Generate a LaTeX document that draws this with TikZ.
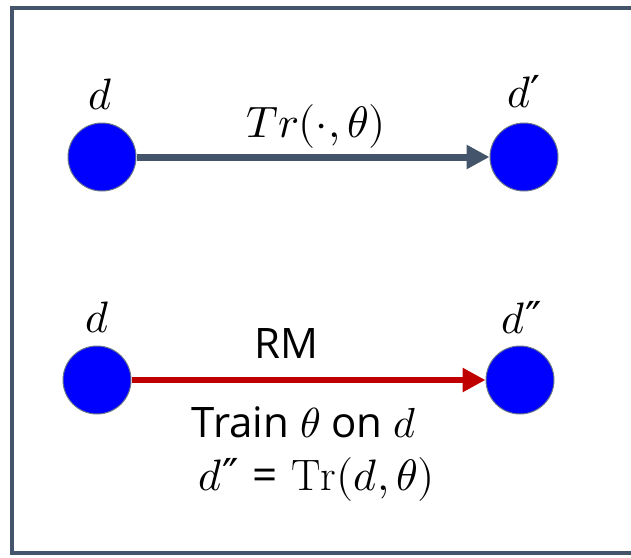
\documentclass[tikz,border=0pt]{standalone}
\usepackage{fontspec}
\usepackage{unicode-math}
\setsansfont{Open Sans}
\setmathfont{Latin Modern Math}
\newfontfamily\primas{DejaVu Serif}
\newcommand{\uno}{\text{\primas\char"2032}}
\newcommand{\dos}{\text{\primas\char"2033}}
\usetikzlibrary{arrows.meta}
\begin{document}
\begin{tikzpicture}[x=1pt,y=-1pt]
  \def\radio{34}
  \colorlet{slateLine}{rgb,255:red,68;green,84;blue,106}
  \colorlet{redArrow}{rgb,255:red,192;green,0;blue,0}
  \colorlet{nodeBlue}{rgb,255:red,0;green,0;blue,255}
  \tikzset{
    punto/.style={circle, fill=nodeBlue, draw=slateLine!80, line width=1pt,
      minimum size=2*\radio pt, inner sep=0pt},
    etiqueta/.style={anchor=base, inner sep=0pt, font=\fontsize{44}{50}\selectfont},
    texto/.style={etiqueta, font=\fontsize{42}{48}\selectfont\sffamily},
    flecha/.style={line width=7pt, -{Triangle[length=23pt,width=23pt]}}
  }
  \useasboundingbox (0,0) rectangle (631,557);
  % marco
  \draw[slateLine, line width=4pt] (660,8) -- (12,8) -- (12,553) -- (660,553);
  % fila de arriba
  \node[punto] (dA) at (102,157) {};
  \node[punto] (dB) at (524,157) {};
  \node[etiqueta] (lA) at (100,109) {$d$};
  \node[etiqueta] (lB) at (524,107) {$d\uno$};
  \node[etiqueta] (lTr) at (316,137) {$Tr(\cdot,\theta)$};
  \draw[flecha, slateLine] (dA) -- (dB);
  % fila de abajo
  \node[punto] (dC) at (97,380) {};
  \node[punto] (dD) at (520,380) {};
  \node[etiqueta] (lC) at (97,332) {$d$};
  \node[etiqueta] (lD) at (522,333) {$d\dos$};
  \node[texto] (lRM) at (286,358) {RM};
  \draw[flecha, redArrow, line width=6pt] (dC) -- (dD);
  \node[texto] (lTrain) at (304,437) {Train $\theta$ on $d$};
  \node[etiqueta] (lEq) at (317,490) {$d\dos$ \textsf{=} $\mathrm{Tr}(d,\theta)$};
\end{tikzpicture}
\end{document}
